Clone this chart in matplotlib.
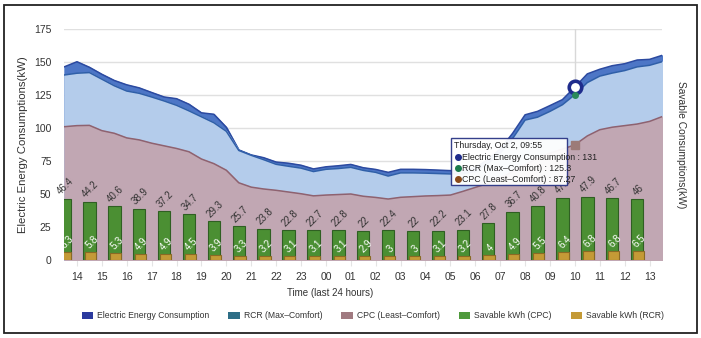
import numpy as np
import matplotlib.pyplot as plt
from matplotlib.patches import Patch, Rectangle

plt.rcParams['font.family'] = ['Liberation Sans', 'DejaVu Sans']

hours = ['14', '15', '16', '17', '18', '19', '20', '21', '22', '23', '00', '01',
         '02', '03', '04', '05', '06', '07', '08', '09', '10', '11', '12', '13']

savable_cpc = [46.4, 44.2, 40.6, 38.9, 37.2, 34.7, 29.3, 25.7, 23.8, 22.8, 22.7, 22.8,
               22, 22.4, 22, 22.2, 23.1, 27.8, 36.7, 40.8, 47.2, 47.9, 46.7, 46]
savable_rcr = [6.3, 5.8, 5.3, 4.9, 4.9, 4.5, 3.9, 3.3, 3.2, 3.1, 3.1, 3.1,
               2.9, 3, 3, 3.1, 3.2, 4, 4.9, 5.5, 6.4, 6.8, 6.8, 6.5]

# half-hour samples, starting half an hour before the first tick
sample_t = np.arange(-0.5, 23.51, 0.5)
eec = [146.4, 150.2, 146, 140.7, 136, 132.7, 130.4, 126.9, 123.5, 122.2, 118, 111.5,
       110.4, 100.5, 83.4, 79.6, 77.5, 74.2, 73.3, 71.8, 69, 70.6, 71.4, 72.4,
       69.9, 68.6, 66.4, 68.7, 68.7, 68.5, 68.1, 67.7, 68, 70, 76, 84,
       96, 110, 112.6, 117, 121.5, 131, 141, 144.5, 147.2, 148.7, 151.5, 152, 155]
rcr = [140.2, 141.5, 142, 137, 132, 128, 126.3, 123.5, 120.5, 117.2, 113, 108.5,
       104, 97.5, 83, 79.3, 76, 72.5, 71, 69.6, 67, 68.7, 69.3, 70.2,
       67.9, 66.4, 63.6, 66, 66, 65.8, 65.5, 65.2, 65.3, 67, 73, 81,
       92, 106, 108.2, 112.6, 117.6, 125.3, 134.4, 139.3, 141.6, 143.5, 146.3, 147.5, 150.2]
cpc = [101, 101.8, 102, 98, 96, 92.5, 91, 88.5, 86.5, 84.5, 82, 76.5,
       73, 68, 58.5, 55.2, 53.8, 52.8, 51.5, 50.2, 48.6, 49.2, 49.6, 50,
       48.3, 47.4, 46.2, 47.5, 48, 48.5, 48.8, 49.2, 52, 55, 58, 62,
       67, 72, 77, 81, 84, 87.27, 94, 98.7, 100.6, 101.8, 103, 105, 108.6]

hover_idx = 41  # 09:55 sample

fig = plt.figure(figsize=(7.01, 3.38), dpi=100)
ax = fig.add_axes([64 / 701, 1 - 260 / 338, 598 / 701, 231 / 338])

# areas (overlapping, not stacked)
ax.fill_between(sample_t, eec, color='#4d76c6', zorder=2)
ax.plot(sample_t, eec, color='#2c4aa0', lw=1.1, zorder=2)
ax.fill_between(sample_t, rcr, color='#b4cceb', zorder=3)
ax.plot(sample_t, rcr, color='#2f5fa8', lw=1.1, zorder=3)
ax.fill_between(sample_t, cpc, color='#c1a7b3', zorder=4)
ax.plot(sample_t, cpc, color='#8e6270', lw=1.1, zorder=4)

ax.set_xlim(-0.52, 23.5)
ax.set_ylim(0, 175)
ax.set_yticks([0, 25, 50, 75, 100, 125, 150, 175])
ax.set_xticks(range(len(hours)))
ax.set_xticklabels(hours)
ax.grid(axis='y', color='#e0e0e0', lw=1)
ax.set_axisbelow(True)
ax.axvline(sample_t[hover_idx], color='#d8d8d8', lw=1, zorder=1)
for s in ax.spines.values():
    s.set_visible(False)
ax.tick_params(axis='y', length=0, pad=9, labelsize=7.5, labelcolor='#333333')
ax.tick_params(axis='x', length=4, color='#e4e4e4', pad=5, labelsize=7.5, labelcolor='#333333')
ax.set_ylabel('Electric Energy Consumptions(kW)', fontsize=8.2, color='#333333')
ax.yaxis.set_label_coords(-0.06, 0.5)

# bars on the secondary axis
ax2 = ax.twinx()
ax2.set_ylim(0, 175)
ax2.set_yticks([])
for s in ax2.spines.values():
    s.set_visible(False)
ax2.set_ylabel('Savable Consumptions(kW)', fontsize=7.4, color='#333333', rotation=-90)
ax2.yaxis.set_label_coords(1.04, 0.5)

pos = np.arange(len(hours)) - 0.5
ax2.bar(pos, savable_cpc, width=0.5, color='#4b8f33', edgecolor='#2f5f22', lw=0.8, zorder=3)
ax2.bar(pos + 0.05, savable_rcr, width=0.45, color='#c49a36', edgecolor='#8a6a24', lw=0.8, zorder=4)
for p, v in zip(pos, savable_cpc):
    ax2.text(p + 0.05, v + 1.5, f'{v:g}', rotation=45, ha='center', va='bottom',
             fontsize=7, color='#333333', zorder=5)
for p, v in zip(pos, savable_rcr):
    ax2.text(p + 0.1, v + 1.2, f'{v:g}', rotation=45, ha='center', va='bottom',
             fontsize=7, color='white', zorder=5)

# hover markers
ht = sample_t[hover_idx]
ax2.plot(ht, eec[hover_idx], 'o', ms=9, mfc='white', mec='#1f2c8c', mew=2.6, zorder=6)
ax2.plot(ht, rcr[hover_idx], 'o', ms=4, color='#2a8a5a', zorder=6)
ax2.plot(ht, cpc[hover_idx], 's', ms=6, color='#9c7b78', zorder=6)

# tooltip
ax2.add_patch(Rectangle((15.02, 56.8), 4.66, 35.6, facecolor='white', edgecolor='#2a3585',
                        lw=1, alpha=0.95, zorder=7))
ax2.text(15.15, 86.8, 'Thursday, Oct 2, 09:55', fontsize=6.3, color='#222222',
         va='center', zorder=8)
tip_rows = [('Electric Energy Consumption : ' + f'{eec[hover_idx]:g}', '#1f2c8c', 78.0),
            ('RCR (Max\u2013Comfort) : ' + f'{rcr[hover_idx]:g}', '#1c7a4c', 69.6),
            ('CPC (Least\u2013Comfort) : ' + f'{cpc[hover_idx]:g}', '#8b4a1a', 61.2)]
for label, col, yy in tip_rows:
    ax2.plot(15.3, yy, 'o', ms=4, color=col, zorder=8, clip_on=False)
    ax2.text(15.45, yy, label, fontsize=6.3, color='#222222', va='center', zorder=8)

fig.text(330 / 701, 1 - 293 / 338, 'Time (last 24 hours)', fontsize=7, color='#333333',
         ha='center', va='center')

handles = [Patch(facecolor='#2b3a9e', edgecolor='none'),
           Patch(facecolor='#2d6e86', edgecolor='none'),
           Patch(facecolor='#a07a80', edgecolor='none'),
           Patch(facecolor='#4f9a3c', edgecolor='none'),
           Patch(facecolor='#c49a36', edgecolor='none')]
labels = ['Electric Energy Consumption', 'RCR (Max\u2013Comfort)', 'CPC (Least\u2013Comfort)',
          'Savable kWh (CPC)', 'Savable kWh (RCR)']
fig.legend(handles, labels, loc='center', bbox_to_anchor=(373 / 701, 1 - 316 / 338), ncol=5,
           frameon=False, fontsize=6.2, handlelength=1.3, handleheight=1.0,
           handletextpad=0.5, columnspacing=2.2, labelcolor='#333333')

fig.add_artist(Rectangle((4 / 701, 5 / 338), 693 / 701, 328 / 338, transform=fig.transFigure,
                         fill=False, edgecolor='#222222', lw=1.3))

fig.savefig('out.png', dpi=100)
